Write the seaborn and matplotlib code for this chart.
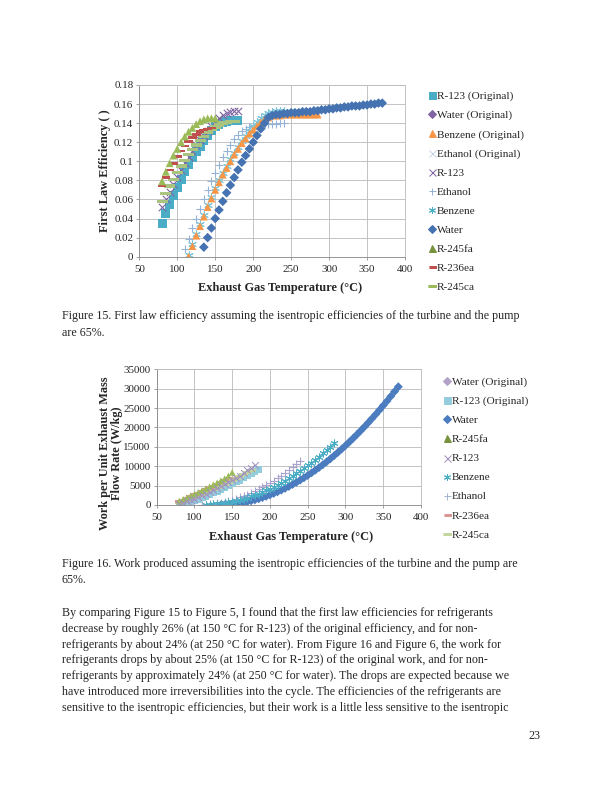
import matplotlib
matplotlib.use("Agg")
import matplotlib.pyplot as plt
from matplotlib.lines import Line2D
import seaborn as sns

# ---------------- Figure 15: first law efficiency ----------------
t15_r123_orig = list(range(80, 185, 5))
eff_r123_orig = [0.035, 0.045, 0.055, 0.064, 0.073, 0.081, 0.089, 0.097, 0.104, 0.110, 0.116,
                 0.122, 0.127, 0.132, 0.136, 0.139, 0.141, 0.142, 0.143, 0.143, 0.143]
t15_r123 = list(range(80, 185, 5))
eff_r123 = [0.052, 0.060, 0.068, 0.076, 0.084, 0.091, 0.098, 0.105, 0.111, 0.117, 0.122,
            0.127, 0.132, 0.137, 0.141, 0.145, 0.149, 0.151, 0.152, 0.153, 0.153]
t15_r245fa = list(range(80, 155, 5))
eff_r245fa = [0.079, 0.089, 0.098, 0.106, 0.113, 0.120, 0.126, 0.131, 0.135, 0.139, 0.142,
              0.144, 0.145, 0.145, 0.145]
t15_r236ea = list(range(80, 150, 5))
eff_r236ea = [0.074, 0.083, 0.091, 0.098, 0.105, 0.111, 0.116, 0.121, 0.125, 0.128, 0.131,
              0.133, 0.134, 0.135]
t15_r245ca = list(range(80, 180, 5))
eff_r245ca = [0.058, 0.066, 0.074, 0.081, 0.088, 0.095, 0.101, 0.107, 0.112, 0.117, 0.122,
              0.126, 0.130, 0.133, 0.136, 0.138, 0.140, 0.141, 0.142, 0.142]
t15_water = list(range(135, 375, 5))
eff_water = [0.010, 0.020, 0.030, 0.040, 0.049, 0.058, 0.067, 0.075, 0.083, 0.091, 0.099,
             0.106, 0.113, 0.120, 0.127, 0.134, 0.140, 0.146, 0.148, 0.149, 0.149, 0.150,
             0.150, 0.151, 0.151, 0.151, 0.152, 0.152, 0.152, 0.153, 0.153, 0.154, 0.154,
             0.155, 0.155, 0.156, 0.156, 0.157, 0.157, 0.158, 0.158, 0.158, 0.159, 0.159,
             0.160, 0.160, 0.161, 0.161]
t15_benz_orig = list(range(115, 290, 5))
eff_benz_orig = [0.000, 0.011, 0.022, 0.032, 0.042, 0.052, 0.061, 0.070, 0.078, 0.086, 0.093,
                 0.100, 0.107, 0.113, 0.119, 0.124, 0.129, 0.133, 0.137, 0.141, 0.144, 0.146,
                 0.148, 0.148, 0.148, 0.149, 0.149, 0.149, 0.149, 0.149, 0.149, 0.149, 0.149,
                 0.149, 0.149]
t15_benz = list(range(115, 245, 5))
eff_benz = [0.002, 0.013, 0.024, 0.034, 0.044, 0.054, 0.063, 0.072, 0.080, 0.088, 0.095,
            0.102, 0.109, 0.115, 0.121, 0.127, 0.132, 0.137, 0.141, 0.145, 0.149, 0.151,
            0.152, 0.153, 0.153, 0.153]
t15_eth = list(range(110, 245, 5))
eff_eth = [0.008, 0.019, 0.030, 0.040, 0.050, 0.060, 0.070, 0.079, 0.088, 0.096, 0.104,
           0.111, 0.117, 0.123, 0.128, 0.132, 0.134, 0.136, 0.137, 0.138, 0.138, 0.139,
           0.139, 0.139, 0.139, 0.140, 0.140]

# ---------------- Figure 16: work per unit exhaust mass flow ----------------
t16_water = list(range(135, 375, 5))
w_water = [0, 50, 120, 210, 330, 480, 650, 850, 1070, 1320, 1600, 1900, 2240, 2600, 2980,
           3390, 3830, 4290, 4780, 5300, 5840, 6410, 7010, 7630, 8280, 8960, 9660, 10390,
           11140, 11920, 12730, 13570, 14430, 15320, 16230, 17170, 18140, 19130, 20150,
           21200, 22270, 23370, 24490, 25650, 26820, 28030, 29260, 30500]
t16_benz = list(range(115, 290, 5))
w_benz = [0, 60, 130, 220, 340, 480, 650, 850, 1060, 1300, 1580, 1880, 2200, 2550, 2920,
          3330, 3760, 4210, 4690, 5200, 5730, 6290, 6880, 7490, 8130, 8790, 9480, 10190,
          10930, 11700, 12490, 13300, 14140, 15000, 15900]
t16_eth = list(range(110, 245, 5))
w_eth = [0, 60, 150, 270, 420, 600, 810, 1050, 1320, 1620, 1950, 2310, 2700, 3120, 3570,
         4050, 4560, 5100, 5670, 6270, 6900, 7560, 8250, 8970, 9720, 10500, 11300]
t16_r123_orig = list(range(80, 190, 5))
w_r123_orig = [0, 250, 550, 850, 1200, 1550, 1900, 2300, 2700, 3100, 3550, 4000, 4450,
               4950, 5450, 5950, 6450, 7000, 7550, 8100, 8650, 9200]
t16_r123 = list(range(80, 185, 5))
w_r123 = [200, 550, 900, 1250, 1650, 2050, 2450, 2900, 3350, 3800, 4300, 4800, 5300, 5850,
          6400, 7000, 7600, 8250, 8900, 9600, 10300]
t16_r245fa = list(range(80, 155, 5))
w_r245fa = [1000, 1450, 1900, 2350, 2800, 3250, 3700, 4200, 4700, 5200, 5700, 6250, 6800,
            7500, 8400]
t16_r236ea = list(range(80, 150, 5))
w_r236ea = [900, 1300, 1750, 2200, 2650, 3100, 3550, 4000, 4450, 4900, 5400, 5900, 6400, 6900]
t16_r245ca = list(range(80, 180, 5))
w_r245ca = [600, 950, 1300, 1650, 2000, 2400, 2800, 3200, 3600, 4000, 4450, 4900, 5350,
            5800, 6300, 6800, 7300, 7800, 8300, 8800]

caption15 = ["Figure 15. First law efficiency assuming the isentropic efficiencies of the turbine and the pump",
             "are 65%."]
caption16 = ["Figure 16. Work produced assuming the isentropic efficiencies of the turbine and the pump are",
             "65%."]
paragraph = [
    "By comparing Figure 15 to Figure 5, I found that the first law efficiencies for refrigerants",
    "decrease by roughly 26% (at 150 \u00b0C for R-123) of the original efficiency, and for non-",
    "refrigerants by about 24% (at 250 \u00b0C for water). From Figure 16 and Figure 6, the work for",
    "refrigerants drops by about 25% (at 150 \u00b0C for R-123) of the original work, and for non-",
    "refrigerants by approximately 24% (at 250 \u00b0C for water). The drops are expected because we",
    "have introduced more irreversibilities into the cycle. The efficiencies of the refrigerants are",
    "sensitive to the isentropic efficiencies, but their work is a little less sensitive to the isentropic",
]

sns.set_style("white")
plt.rcParams['font.family'] = ['Liberation Serif', 'DejaVu Serif']

DASH = [(-1, -0.3), (1, -0.3), (1, 0.3), (-1, 0.3)]
STAR = (6, 2, 0)

fig = plt.figure(figsize=(8.5, 11), dpi=72)


def style_axes(ax, xlim, ylim, yticks):
    ax.set_xlim(*xlim)
    ax.set_ylim(*ylim)
    ax.set_xticks(range(50, 401, 50))
    ax.set_yticks(yticks)
    ax.grid(True, color='#BEBEBE', lw=0.9)
    ax.set_axisbelow(True)
    for s in ['top', 'right']:
        ax.spines[s].set_color('#BEBEBE')
    for s in ['left', 'bottom']:
        ax.spines[s].set_color('#8C8C8C')
    for s in ax.spines.values():
        s.set_linewidth(0.9)
    ax.tick_params(labelsize=11, length=3, color='#8C8C8C', direction='out',
                   bottom=True, left=True)
    ax.tick_params(axis='x', pad=5)
    ax.tick_params(axis='y', pad=3)


def draw(ax, series):
    for x, y, m, c, s, lw in series:
        if m in ('x', '+', STAR):
            sns.scatterplot(x=x, y=y, ax=ax, marker=m, color=c, s=s, linewidth=lw)
        else:
            sns.scatterplot(x=x, y=y, ax=ax, marker=m, color=c, s=s, linewidth=0,
                            edgecolor='none')


# ---- top chart ----
ax1 = fig.add_axes([0.2276, 0.6759, 0.4342, 0.2168])
style_axes(ax1, (50, 400), (0, 0.18), [0, 0.02, 0.04, 0.06, 0.08, 0.1, 0.12, 0.14, 0.16, 0.18])
ax1.set_yticklabels(['0', '0.02', '0.04', '0.06', '0.08', '0.1', '0.12', '0.14', '0.16', '0.18'])
draw(ax1, [
    (t15_eth, eff_eth, '+', '#95B3D7', 55, 1.1),
    (t15_benz, eff_benz, STAR, '#7FC6DA', 60, 1.1),
    (t15_benz_orig, eff_benz_orig, '^', '#F79646', 60, 0),
    (t15_water, eff_water, 'D', '#4572B0', 46, 0),
    (t15_r123_orig, eff_r123_orig, 's', '#4BACC6', 80, 0),
    (t15_r123, eff_r123, 'x', '#8064A2', 55, 1.1),
    (t15_r245ca, eff_r245ca, DASH, '#A8C47E', 120, 0),
    (t15_r236ea, eff_r236ea, DASH, '#C0504D', 75, 0),
    (t15_r245fa, eff_r245fa, '^', '#9BBB59', 62, 0),
])
ax1.set_xlabel('Exhaust Gas Temperature (\u00b0C)', fontsize=12.4, fontweight='bold')
ax1.xaxis.set_label_coords(0.53, -0.148, transform=ax1.transAxes)
ax1.set_ylabel('First Law Efficiency ( )', fontsize=12.4, fontweight='bold')
ax1.yaxis.set_label_coords(-0.108, 0.5, transform=ax1.transAxes)

leg15 = [
    ('R-123 (Original)', 's', '#4BACC6', 7),
    ('Water (Original)', 'D', '#8064A2', 5),
    ('Benzene (Original)', '^', '#F79646', 7),
    ('Ethanol (Original)', 'x', '#C6D6EA', 7),
    ('R-123', 'x', '#8064A2', 7),
    ('Ethanol', '+', '#95B3D7', 7),
    ('Benzene', STAR, '#4BACC6', 7),
    ('Water', 'D', '#4572B0', 5),
    ('R-245fa', '^', '#77933C', 7),
    ('R-236ea', DASH, '#C0504D', 7),
    ('R-245ca', DASH, '#9BBB59', 8),
]


def legend(entries, x, y):
    handles = [Line2D([], [], ls='none', marker=m, color=c, markersize=ms, mew=1.0)
               for _, m, c, ms in entries]
    labels = [e[0] for e in entries]
    fig.legend(handles, labels, loc='upper left', bbox_to_anchor=(x, y),
               bbox_transform=fig.transFigure, frameon=False, fontsize=11.2,
               handlelength=0.55, handletextpad=0.12, labelspacing=0.82,
               borderaxespad=0, borderpad=0)


legend(leg15, 429 / 612, 1 - 91 / 792)

# ---- bottom chart ----
ax2 = fig.add_axes([0.2560, 0.3624, 0.4319, 0.1713])
style_axes(ax2, (50, 400), (0, 35000), list(range(0, 35001, 5000)))
draw(ax2, [
    (t16_r123_orig, w_r123_orig, 's', '#93CDDD', 50, 0),
    (t16_water, w_water, 'D', '#4A7CBF', 40, 0),
    (t16_eth, w_eth, '+', '#A9A3CF', 50, 1.1),
    (t16_benz, w_benz, STAR, '#4BACC6', 50, 1.0),
    (t16_r245ca, w_r245ca, DASH, '#C3D69B', 85, 0),
    (t16_r236ea, w_r236ea, DASH, '#D99694', 70, 0),
    (t16_r245fa, w_r245fa, '^', '#9BBB59', 45, 0),
    (t16_r123, w_r123, 'x', '#9F8FC0', 45, 1.0),
])
ax2.set_xlabel('Exhaust Gas Temperature (\u00b0C)', fontsize=12.4, fontweight='bold')
ax2.xaxis.set_label_coords(0.51, -0.19, transform=ax2.transAxes)
ax2.set_ylabel('Work per Unit Exhaust Mass\nFlow Rate (W/kg)', fontsize=12.2,
               fontweight='bold', linespacing=1.05)
ax2.yaxis.set_label_coords(-0.127, 0.38, transform=ax2.transAxes)

leg16 = [
    ('Water (Original)', 'D', '#B3A2C7', 5),
    ('R-123 (Original)', 's', '#93CDDD', 7),
    ('Water', 'D', '#4A7CBF', 5),
    ('R-245fa', '^', '#77933C', 7),
    ('R-123', 'x', '#9F8FC0', 7),
    ('Benzene', STAR, '#4BACC6', 7),
    ('Ethanol', '+', '#A6B4D6', 7),
    ('R-236ea', DASH, '#D99694', 7),
    ('R-245ca', DASH, '#C3D69B', 8),
]
legend(leg16, 444 / 612, 1 - 377 / 792)

# ---- page text ----
def line(txt, y, x=62):
    fig.text(x / 612, 1 - y / 792, txt, fontsize=12, va='center', ha='left')


line(caption15[0], 316.5)
line(caption15[1], 333)
line(caption16[0], 564.5)
line(caption16[1], 580)
for i, t in enumerate(paragraph):
    line(t, 613 + i * 15.8)
fig.text(540 / 612, 1 - 736 / 792, '23', fontsize=12, va='center', ha='right')

fig.savefig('out.png', dpi=72)
